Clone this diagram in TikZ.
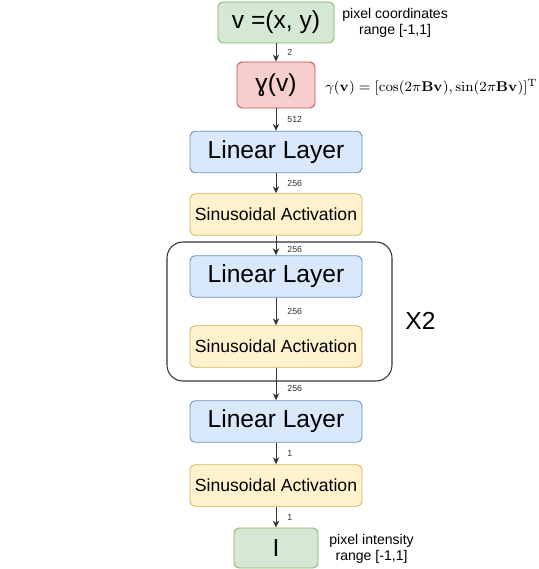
\documentclass[tikz,border=0pt]{standalone}
\usepackage[no-math]{fontspec}
\setmainfont{Liberation Sans}
\usetikzlibrary{arrows.meta}

\definecolor{ingreen}{HTML}{D5E8D4}
\definecolor{ingreenline}{HTML}{82B366}
\definecolor{encred}{HTML}{F8CECC}
\definecolor{encredline}{HTML}{B85450}
\definecolor{linblue}{HTML}{DAE8FC}
\definecolor{linblueline}{HTML}{6C8EBF}
\definecolor{sinyellow}{HTML}{FFF2CC}
\definecolor{sinyellowline}{HTML}{D6B656}
\definecolor{wire}{HTML}{333333}

\begin{document}
\begin{tikzpicture}[
    layer/.style={rounded corners=0.1cm, line width=0.5pt, minimum width=3.44cm, minimum height=0.83cm, inner sep=0},
    linlayer/.style={layer, fill=linblue, draw=linblueline, font=\fontsize{14}{16}\selectfont},
    sinlayer/.style={layer, fill=sinyellow, draw=sinyellowline, font=\fontsize{10}{12}\selectfont},
    flow/.style={draw=wire, line width=0.5pt, -{Stealth[length=4pt,width=3.6pt]}},
    dim/.style={font=\fontsize{5}{6}\selectfont, text=wire, anchor=west, inner sep=0, xshift=0.22cm},
    side/.style={font=\fontsize{8}{9}\selectfont, align=center, anchor=west, inner sep=0}
  ]
    \useasboundingbox (0,0) rectangle (10.76,-11.38);

    % repeated block
    \draw[wire, line width=0.6pt, rounded corners=0.32cm] (3.34,-4.84) rectangle (7.84,-7.62);
    \node[anchor=west, inner sep=0, font=\fontsize{14}{16}\selectfont] (rep) at (8.10,-6.42) {X2};

    \node[layer, fill=ingreen, draw=ingreenline, minimum width=2.32cm, minimum height=0.82cm,
          font=\fontsize{14}{16}\selectfont] (in) at (5.52,-0.45) {v =(x, y)};
    \node[layer, fill=encred, draw=encredline, minimum width=1.56cm, minimum height=0.92cm,
          font=\fontsize{14}{16}\selectfont] (enc) at (5.52,-1.70) {\symbol{"0263}(v)};
    \node[linlayer] (lin1) at (5.52,-3.04) {Linear Layer};
    \node[sinlayer] (sin1) at (5.52,-4.29) {Sinusoidal Activation};
    \node[linlayer] (lin2) at (5.52,-5.53) {Linear Layer};
    \node[sinlayer] (sin2) at (5.52,-6.93) {Sinusoidal Activation};
    \node[linlayer] (lin3) at (5.52,-8.43) {Linear Layer};
    \node[sinlayer] (sin3) at (5.52,-9.71) {Sinusoidal Activation};
    \node[layer, fill=ingreen, draw=ingreenline, minimum width=1.68cm, minimum height=0.80cm,
          font=\fontsize{14}{16}\selectfont] (out) at (5.52,-10.96) {I};

    \node[side] (inlbl) at (6.84,-0.46) {pixel coordinates\\range [-1,1]};
    \node[side] (outlbl) at (6.58,-10.97) {pixel intensity\\range [-1,1]};
    \node[anchor=west, inner sep=0, font=\footnotesize] (fourier) at (6.50,-1.74)
        {$\gamma(\mathbf{v})=[\cos(2\pi\mathbf{B}\mathbf{v}),\sin(2\pi\mathbf{B}\mathbf{v})]^{\mathrm{T}}$};

    \draw[flow] (in) -- node[dim] {2} (enc);
    \draw[flow] (enc) -- node[dim] {512} (lin1);
    \draw[flow] (lin1) -- node[dim] {256} (sin1);
    \draw[flow] (sin1) -- node[dim, pos=0.72] {256} (lin2);
    \draw[flow] (lin2) -- node[dim] {256} (sin2);
    \draw[flow] (sin2) -- node[dim, pos=0.65] {256} (lin3);
    \draw[flow] (lin3) -- node[dim] {1} (sin3);
    \draw[flow] (sin3) -- node[dim] {1} (out);
\end{tikzpicture}
\end{document}
